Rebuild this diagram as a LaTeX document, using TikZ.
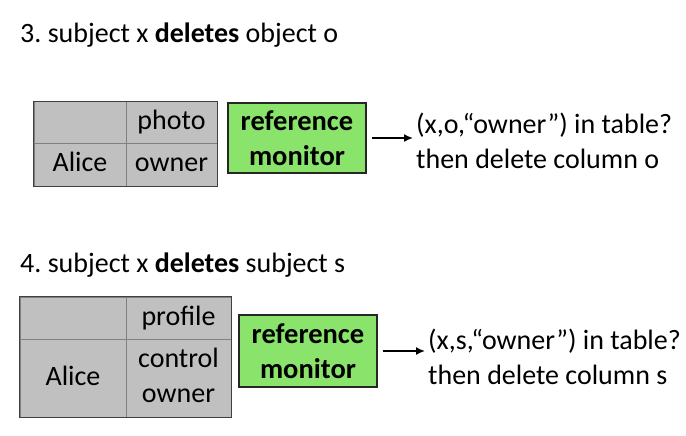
\documentclass[tikz,border=0pt]{standalone}
\usepackage{fontspec}
\setmainfont{Carlito}
\usetikzlibrary{arrows.meta}
\definecolor{cellgray}{HTML}{C0C0C0}
\definecolor{monitorgreen}{HTML}{8AE46C}
\frenchspacing
\begin{document}
\begin{tikzpicture}
[x=1pt,y=-1pt,
  font=\fontsize{28}{35}\selectfont,
  cellDecorate/.style={shape=rectangle,fill=cellgray,draw=gray,line width=1pt,
    inner sep=0pt,align=center},%
  tableDecorate/.style={draw=black!75,line width=1.3pt},%
  monitorDecorate/.style={shape=rectangle,fill=monitorgreen,draw=black!85,
    line width=1.3pt,inner sep=0pt,align=center,font=\fontsize{28.5}{35}\selectfont\bfseries,
    minimum width=138pt},%
  lineDecorate/.style={-{Latex[length=9pt,width=8pt]},line width=1.6pt,
    shorten <=5pt,shorten >=3pt},%
  textDecorate/.style={anchor=west,align=left,inner sep=0pt}]
\useasboundingbox (0,0) rectangle (686,436);
%% headings
\node (head3) at (20,43) [anchor=base west,inner sep=0pt]
  {3. subject x \textbf{deletes} object o};
\node (head4) at (20,272) [anchor=base west,inner sep=0pt]
  {4. subject x \textbf{deletes} subject s};
%% table cells
\foreach \nodename/\x/\y/\w/\h/\txt in {
  %% first table
  a1/80/122.5/92/41/{}, b1/171.5/122.5/91/41/photo,
  c1/80/164.5/92/43/Alice, d1/171.5/164.5/91/43/owner,
  %% second table
  a2/73/318/106/42/{}, b2/178.5/318/105/42/profile,
  c2/73/378/106/78/Alice, d2/178.5/378/105/78/control\\owner}
{
  \node (\nodename) at (\x,\y) [cellDecorate,minimum width=\w pt,minimum height=\h pt]
    {\strut\txt\strut};
}
\draw[tableDecorate] (a1.north west) rectangle (d1.south east);
\draw[tableDecorate] (a2.north west) rectangle (d2.south east);
%% reference monitors
\node (mon1) at (297,138) [monitorDecorate,minimum height=70pt] {reference\\monitor};
\node (mon2) at (308,351) [monitorDecorate,minimum height=72pt] {reference\\monitor};
%% checks
\node (check1) at (416,141) [textDecorate]
  {(x,o,“owner”) in table?\\then delete column o};
\node (check2) at (428,357) [textDecorate]
  {(x,s,“owner”) in table?\\then delete column s};
%% arrows
\draw[lineDecorate] (mon1) -- (mon1 -| check1.west);
\draw[lineDecorate] (mon2) -- (mon2 -| check2.west);
\end{tikzpicture}
\end{document}
